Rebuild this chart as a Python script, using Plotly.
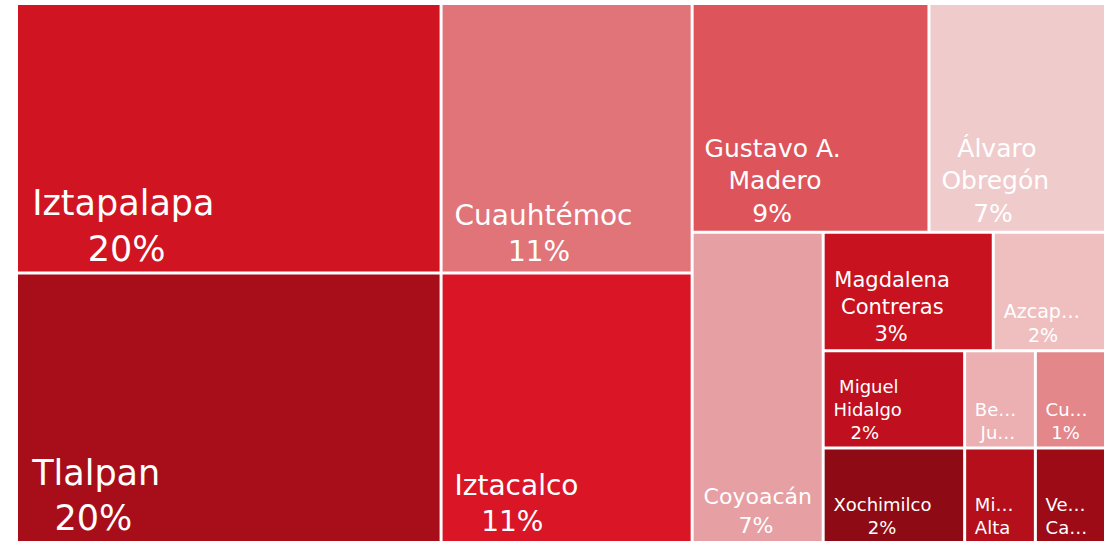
"""Treemap: participación por alcaldía (CDMX)."""

import plotly.graph_objects as go

# Leaf tiles, in drawing order
NAMES = [
    "Iztapalapa", "Tlalpan", "Cuauhtémoc", "Iztacalco", "Gustavo A. Madero",
    "Álvaro Obregón", "Coyoacán", "Magdalena Contreras", "Azcapotzalco",
    "Miguel Hidalgo", "Benito Juárez", "Cuajimalpa", "Xochimilco",
    "Milpa Alta", "Venustiano Carranza",
]
# share of the total (%), estimated from the tile areas
SHARES = [19.5, 19.5, 11.53, 11.53, 9.23, 6.88, 6.93, 3.44, 2.27,
          2.34, 1.17, 1.16, 2.28, 1.14, 1.13]
# label text as it appears in the tiles (long names are truncated)
SHOWN = [
    ["Iztapalapa"], ["Tlalpan"], ["Cuauhtémoc"], ["Iztacalco"],
    ["Gustavo A.", "Madero"], ["Álvaro", "Obregón"], ["Coyoacán"],
    ["Magdalena", "Contreras"], ["Azcap…"], ["Miguel", "Hidalgo"],
    ["Be…", "Ju…"], ["Cu…"], ["Xochimilco"], ["Mi…", "Alta"], ["Ve…", "Ca…"],
]
PCT_LABELS = ["20%", "20%", "11%", "11%", "9%", "7%", "7%", "3%", "2%",
              "2%", "", "1%", "2%", "", ""]
COLORS = [
    "#D11421", "#A80E1A", "#E07478", "#DA1626", "#DE545B",
    "#F0CBCC", "#E6A0A3", "#C8121F", "#EFBFC0", "#C0101F",
    "#ECB0B3", "#E4878B", "#8E0A14", "#B50F1C", "#9C0B16",
]
FONT_SIZES = [35, 35, 28, 28, 25, 25, 22, 21, 19, 18, 18, 18, 18, 18, 18]

# invisible grouping nodes that reproduce the slice/dice layout
LEAF_PARENTS = ["A", "A", "B", "B", "C1", "C1", "C2", "ra", "ra",
                "rb", "rb", "rb", "rc", "rc", "rc"]
GROUP_IDS = ["total", "A", "B", "C", "C1", "C2", "C2s", "ra", "rb", "rc"]
GROUP_PARENTS = ["", "total", "total", "total", "C", "C", "C2", "C2s", "C2s", "C2s"]

# rough advance widths (em) for DejaVu Sans, used to centre label lines
_NARROW = {"i": 0.28, "l": 0.28, "I": 0.3, "J": 0.3, "t": 0.39, "r": 0.41,
           " ": 0.32, ".": 0.32, "%": 0.95, "…": 1.0, "m": 0.97, "M": 0.86,
           "s": 0.52, "z": 0.52, "c": 0.55}
_NBSP = 0.318


def _em(s):
    return sum(_NARROW.get(c, 0.64 if c.isdigit() else (0.72 if c.isupper() else 0.62))
               for c in s)


def _centered(lines):
    widths = [_em(line) for line in lines]
    wmax = max(widths)
    out = []
    for line, w in zip(lines, widths):
        n = 1 + round((wmax - w) / 2 / _NBSP)
        out.append("\u00a0" * n + line)
    return "<br>".join(out)


texts = []
for shown, pct in zip(SHOWN, PCT_LABELS):
    lines = shown + ([pct] if pct else [])
    texts.append(_centered(lines))

ids = NAMES + GROUP_IDS
parents = LEAF_PARENTS + GROUP_PARENTS
values = SHARES + [0] * len(GROUP_IDS)
labels = NAMES + [""] * len(GROUP_IDS)
text = texts + [""] * len(GROUP_IDS)
colors = COLORS + ["#FFFFFF"] * len(GROUP_IDS)
sizes = FONT_SIZES + [12] * len(GROUP_IDS)

fig = go.Figure(go.Treemap(
    ids=ids,
    labels=labels,
    parents=parents,
    values=values,
    text=text,
    textinfo="text",
    textposition="bottom left",
    textfont=dict(family="DejaVu Sans", color="white", size=sizes),
    hovertext=NAMES + [""] * len(GROUP_IDS),
    hoverinfo="text",
    sort=False,
    branchvalues="remainder",
    tiling=dict(packing="slice-dice", pad=3),
    marker=dict(colors=colors, line=dict(width=0),
                pad=dict(t=0, l=0, r=0, b=0)),
    pathbar=dict(visible=False),
    root=dict(color="#FFFFFF"),
))

fig.update_layout(
    width=1112,
    height=541,
    margin=dict(t=5, b=0, l=18, r=8),
    paper_bgcolor="white",
    plot_bgcolor="white",
)

# page body has a default 8px margin; drop it so the chart sits at the window edge
fig.write_html(
    "out.html",
    config={"displayModeBar": False},
    post_script="document.body.style.margin = '0';",
)
